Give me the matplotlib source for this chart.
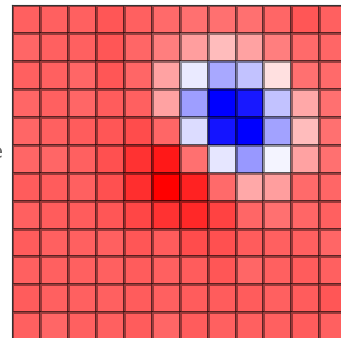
"""Heatmap crop: a 12x12 field on the bwr colormap with a low (blue) well and
a high (red) ridge, cells outlined by translucent black edges."""

import matplotlib

matplotlib.use("Agg")

import matplotlib.pyplot as plt  # noqa: E402
import numpy as np  # noqa: E402

# cell values in [0, 1], row 0 at the top
row_00 = [0.81, 0.81, 0.81, 0.83, 0.81, 0.79, 0.78, 0.78, 0.78, 0.80, 0.83, 0.81]
row_01 = [0.80, 0.81, 0.81, 0.83, 0.80, 0.75, 0.69, 0.63, 0.68, 0.75, 0.79, 0.80]
row_02 = [0.81, 0.81, 0.80, 0.83, 0.80, 0.68, 0.46, 0.33, 0.38, 0.56, 0.78, 0.79]
row_03 = [0.80, 0.81, 0.80, 0.82, 0.81, 0.68, 0.31, 0.00, 0.05, 0.38, 0.67, 0.78]
row_04 = [0.80, 0.81, 0.82, 0.83, 0.85, 0.80, 0.43, 0.04, 0.00, 0.32, 0.63, 0.78]
row_05 = [0.80, 0.80, 0.81, 0.84, 0.90, 0.95, 0.78, 0.45, 0.30, 0.48, 0.68, 0.78]
row_06 = [0.82, 0.82, 0.81, 0.84, 0.91, 1.00, 0.93, 0.79, 0.67, 0.69, 0.79, 0.80]
row_07 = [0.81, 0.82, 0.82, 0.83, 0.86, 0.90, 0.92, 0.87, 0.80, 0.78, 0.80, 0.81]
row_08 = [0.82, 0.81, 0.81, 0.81, 0.83, 0.82, 0.85, 0.84, 0.82, 0.81, 0.81, 0.80]
row_09 = [0.81, 0.81, 0.81, 0.81, 0.82, 0.81, 0.82, 0.83, 0.80, 0.81, 0.82, 0.81]
row_10 = [0.82, 0.81, 0.81, 0.81, 0.82, 0.81, 0.82, 0.82, 0.82, 0.81, 0.82, 0.83]
row_11 = [0.81, 0.80, 0.81, 0.81, 0.82, 0.80, 0.82, 0.81, 0.81, 0.81, 0.82, 0.81]

rows = [row_00, row_01, row_02, row_03, row_04, row_05,
        row_06, row_07, row_08, row_09, row_10, row_11]

W, H = 341, 338
CELL = 27.94  # pixels per cell

values = np.array(rows)
n_rows, n_cols = values.shape

fig = plt.figure(figsize=(W / 100, H / 100), dpi=100)
left = 12 / W
top = 1 - 5 / H
width = n_cols * CELL / W
height = n_rows * CELL / H
ax = fig.add_axes([left, top - height, width, height])

ax.pcolormesh(
    values,
    cmap="bwr",
    vmin=0.0,
    vmax=1.0,
    edgecolors=(0, 0, 0, 0.4),
    linewidth=1.0,
)
ax.set_xlim(0, n_cols)
ax.set_ylim(n_rows, 0)
ax.set_xticks([])
ax.set_yticks([])
for spine in ax.spines.values():
    spine.set_linewidth(0.8)
    spine.set_color("#333333")

# stray fragment of a label cut off by the crop on the left edge
fig.text(3 / W, 1 - 153 / H, "e", ha="right", va="center",
         fontsize=14, color="#666666")

fig.savefig("out.png", dpi=100)
